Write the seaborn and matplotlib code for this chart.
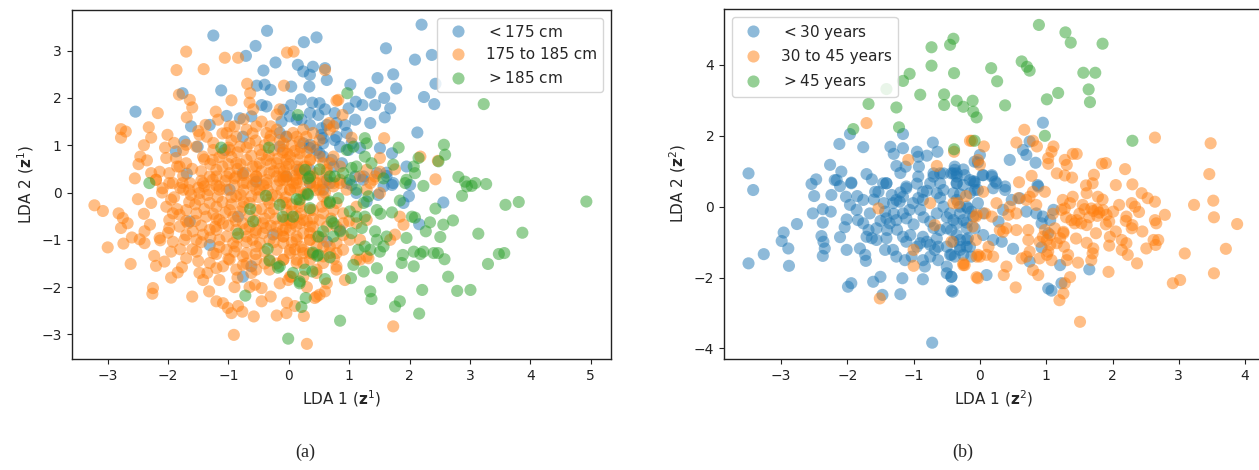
import matplotlib
matplotlib.use("Agg")
import matplotlib.pyplot as plt
import seaborn as sns
import pandas as pd

# ---------------- data: panel (a), LDA projection by height ----------------
height_labels = [r"$<175$ cm", "175 to 185 cm", r"$>185$ cm"]

a_short = [(-1.25,3.32),(-0.36,3.42),(-0.55,3.10),(-0.71,2.89),(0.25,3.18),(0.46,3.28),(-0.22,2.75),(-0.42,2.58),
 (0.15,2.70),(0.24,2.56),(0.35,2.49),(0.40,2.66),(0.60,2.63),(0.63,2.38),(0.34,2.24),(-0.53,2.26),(-0.40,2.28),
 (-0.30,2.17),(0.04,2.24),(-1.12,2.16),(-1.76,2.10),(-2.54,1.71),(0.20,1.97),(0.39,1.90),(0.51,1.89),(0.60,1.76),
 (0.04,1.85),(-0.09,1.75),(-0.45,1.85),(-0.37,1.82),(-1.03,1.62),(-0.81,1.57),(-0.62,1.61),(-0.12,1.50),(0.02,1.61),
 (0.21,1.54),(0.35,1.68),(0.49,1.64),(0.63,1.43),(0.76,1.68),(0.79,1.47),(-1.62,1.40),(-1.31,1.43),(-1.73,1.08),
 (-1.51,0.97),(-1.87,0.87),(0.54,1.22),(0.57,1.15),(0.35,1.01),(0.46,0.90),(-0.04,1.18),(-0.15,0.97),(-1.69,0.40),
 (-1.06,0.90),(-0.76,1.18),(2.20,3.55),(1.61,3.05),(2.09,2.81),(2.37,2.91),(2.43,2.30),(2.24,2.02),(2.41,1.87),
 (1.47,2.42),(1.73,2.50),(1.78,2.20),(1.35,2.11),(1.58,2.00),(1.02,2.28),(1.43,1.85),(1.68,1.78),(1.59,1.59),
 (1.35,1.47),(1.11,1.92),(1.22,1.85),(0.99,1.78),(1.10,1.54),(0.93,1.43),(2.13,1.27),(1.18,0.94),(1.51,0.94),
 (1.71,0.83),(1.95,0.55),(1.62,0.42),(1.73,0.20),(0.57,1.04),(0.76,1.11),(0.85,0.97),(0.99,0.90),(0.13,1.54),
 (0.35,1.43),(0.54,1.36),(0.79,1.18),(0.96,1.26),(1.04,1.04),(0.35,0.94),(0.51,0.83),(0.71,0.69),(0.88,0.62),
 (1.10,0.34),(1.23,0.27),(1.57,0.13),(-0.04,0.34),(0.18,0.48),(-0.15,1.26),(0.24,1.04),(0.57,0.76),(0.74,0.55),
 (0.35,0.48),(0.68,0.20),(-1.31,-1.11),(-0.76,-1.78),(-0.62,-1.56),(0.63,-1.04),(-0.26,-0.89),(-1.64,-0.61),
 (-0.84,-0.51),(2.56,-0.21),(2.16,-0.67),(1.99,-0.08),(1.90,-0.22),(1.71,0.16),(1.62,0.35),(2.01,0.16),(1.48,-0.05),
 (1.29,-0.19),(1.04,0.16),(1.46,0.41),(1.24,0.34),(1.12,-0.01),(0.96,0.20),(0.63,0.27),(0.57,0.06),(0.35,0.20),
 (0.85,-0.79),(-0.98,0.06),(-0.54,0.23),(-0.76,0.41)]

a_mid = [(-1.70,2.98),(-1.06,2.85),(-0.84,2.85),(-0.03,2.96),(0.08,2.98),(-1.86,2.59),(-1.41,2.61),(0.60,2.59),
 (-0.69,2.30),(-0.64,2.10),(-0.08,2.26),(-1.82,2.07),(-1.64,1.96),(-2.17,1.68),(-1.69,1.59),(-1.21,1.71),(-0.59,1.76),
 (-0.15,1.76),(0.79,1.94),(-2.78,1.34),(-2.70,1.29),(-2.78,1.16),(-2.32,1.38),(-2.28,1.16),(-2.01,1.22),(-1.38,1.43),
 (-1.17,1.54),(-1.48,1.22),(-1.36,1.18),(-1.03,1.26),(-2.46,0.76),(-2.35,0.68),(-2.49,0.60),(-2.28,0.41),(-2.14,0.44),
 (-1.98,0.41),(-1.81,0.55),(-1.70,0.62),(-2.03,0.73),(-1.87,0.73),(-1.70,1.01),(-1.53,0.97),(-1.42,0.76),(-1.26,0.69),
 (-1.09,0.83),(-1.31,0.34),(-2.20,0.27),(-1.98,0.20),(-1.76,0.20),(0.82,1.96),(0.89,1.64),(0.67,1.47),(0.74,1.40),
 (1.04,1.16),(1.58,1.15),(2.18,0.76),(2.47,0.67),(2.43,0.28),(1.76,0.49),(1.51,0.73),(1.29,0.48),(1.43,0.34),
 (1.35,0.20),(-3.22,-0.27),(-3.08,-0.39),(-3.00,-1.16),(-2.82,-0.44),(-2.75,-0.54),(-2.67,-0.65),(-2.78,-0.75),
 (-2.74,-1.08),(-2.62,-1.51),(-2.50,-0.14),(-2.28,-0.22),(-2.30,-0.68),(-2.39,-0.82),(-2.47,-0.99),(-2.39,-1.07),
 (-2.14,-0.96),(-2.13,-1.01),(-2.23,-1.34),(-2.06,-1.46),(-1.92,-1.04),(-1.95,-1.25),(-2.25,-2.02),(-2.26,-2.14),
 (-1.84,-1.69),(-1.77,-1.58),(-1.48,-1.70),(-1.42,-1.85),(-1.32,-2.09),(-1.09,-2.34),(-1.01,-2.44),(-0.95,-2.55),
 (-0.84,-2.40),(-0.77,-2.52),(-0.58,-2.62),(-0.91,-3.01),(-0.30,-2.20),(-0.03,-2.33),(-0.04,-2.55),(0.30,-3.20),
 (0.25,-2.61),(0.46,-2.20),(0.60,-2.09),(-0.56,-1.95),(-0.45,-2.02),(-0.15,-1.92),(0.04,-1.78),(-1.70,-1.39),
 (-1.53,-1.25),(-1.31,-1.49),(-1.20,-1.60),(-1.09,-1.56),(-0.87,-1.63),(-0.76,-1.53),(-0.62,-1.70),(-1.98,-0.75),
 (-1.81,-0.72),(-1.67,-0.65),(-1.59,-0.82),(-1.42,-0.89),(-1.31,-0.79),(-1.53,-1.00),(-1.73,-1.00),(-2.03,-0.30),
 (-1.92,-0.44),(-1.98,-0.58),(-1.81,-0.47),(-1.70,-0.37),(-1.53,-0.44),(-1.37,-0.51),(-1.20,-0.30),(-1.31,-0.22),
 (-1.48,-0.15),(-2.20,0.27),(-2.09,0.09),(-1.92,0.20),(-1.75,0.06),(-1.64,0.20),(-1.48,-0.01),(-1.40,0.13),
 (-1.26,0.27),(-1.20,-0.79),(-1.03,-0.93),(-1.25,-1.28),(-1.03,-1.21),(-0.87,-1.14),(-0.70,-1.28),(-0.54,-1.14),
 (-0.54,-1.42),(-0.32,-1.42),(-0.20,-1.21),(-0.09,-1.07),(0.02,-1.28),(0.13,-1.42),(0.24,-1.21),(0.35,-1.28),
 (-1.03,0.06),(-0.87,-0.08),(-0.76,0.20),(-0.65,-0.22),(-0.54,0.06),(-0.37,0.20),(-0.32,-0.22),(-0.20,-0.08),
 (-0.04,-0.37),(0.02,0.06),(0.18,-0.22),(0.24,-0.58),(0.35,-0.37),(0.46,0.20),(0.57,-0.08),(0.51,-0.58),
 (0.74,-0.37),(0.79,-0.72),(0.02,-0.79),(-0.20,-0.86),(-0.43,-0.65),(-0.54,-0.79),(-0.76,-0.65),(-0.92,-0.51),
 (-1.15,-0.58),(1.73,-2.83),(0.51,-2.16),(0.43,-2.23),(0.93,-1.85),(1.84,-0.51),(1.90,-0.68),(1.76,-0.89),
 (1.68,-1.00),(1.32,-1.39),(1.18,-1.42),(-0.01,-1.85),(-0.04,0.34),(0.18,0.41),(0.40,0.34),(0.63,0.41),(0.85,0.27),
 (1.18,0.34),(1.40,0.27),(1.51,0.44),(0.02,0.06),(0.29,-0.01),(0.51,0.06),(0.74,0.13),(0.96,0.06),(1.29,0.06),
 (1.51,-0.01),(-0.04,-0.22),(0.18,-0.30),(0.40,-0.37),(0.63,-0.22),(0.90,-0.44),(1.12,-0.30),(-0.04,-0.58),
 (0.18,-0.65),(0.40,-0.72),(0.63,-0.72),(0.90,-0.65),(1.12,-0.65),(1.29,-0.58),(-0.09,-0.93),(0.13,-0.93),
 (0.35,-1.00),(0.57,-1.14),(0.79,-1.07),(1.01,-1.00),(1.18,-1.00),(0.02,-1.21),(0.24,-1.28),(0.46,-1.14),
 (0.68,-1.28),(0.90,-1.21),(1.12,-1.42),(1.29,-1.35),(-0.09,-1.42),(0.13,-1.49),(0.35,-1.42),(0.57,-1.49),
 (0.79,-1.56),(0.02,-1.78),(0.24,-1.78),(0.46,-1.70),(0.63,-1.92),(-0.15,1.11),(-0.04,1.18),(0.07,1.26),
 (0.18,1.08),(0.29,1.18),(0.40,0.97),(0.51,1.11),(-0.09,0.90),(0.02,0.76),(0.18,0.83),(0.35,0.69),(0.51,0.76),
 (0.68,0.62),(-0.04,0.55),(0.13,0.48),(0.29,0.55),(0.46,0.41),(0.63,0.48),(-0.09,0.27),(0.07,0.20),(0.24,0.27),
 (0.40,0.13),(0.57,0.23),(0.74,0.20),(0.85,0.55),(-0.98,1.40),(-0.87,1.18),(-0.70,1.33),(-0.54,1.40),(-0.37,1.26),
 (-0.20,1.33),(-0.98,0.90),(-0.81,0.97),(-0.65,1.04),(-0.48,0.90),(-0.32,1.11),(-0.09,1.04),(0.13,1.18),(0.24,1.33),
 (0.40,1.26),(0.68,1.33),(-0.87,0.62),(-0.70,0.69),(-0.54,0.55),(-0.37,0.69),(-0.20,0.62),(-0.04,0.69),(0.13,0.55),
 (0.35,0.69),(0.57,0.62),(0.74,0.76),(-1.20,0.48),(-1.03,0.34),(-0.87,0.34),(-0.70,0.20),(-0.54,0.34),(-0.37,0.27),
 (-0.20,0.34),(-0.04,0.27),(0.13,0.20),(0.35,0.34),(0.57,0.20),(-1.42,0.20),(-1.15,0.13),(-0.48,0.06),(-1.20,0.34),
 (-0.98,0.41),(-0.76,0.37),(-0.54,0.34),(-0.32,0.41),(-0.09,0.34),(0.13,0.27),(0.35,0.20),(-1.15,0.06),(-0.98,-0.37),
 (-0.76,-0.30),(-0.54,-0.37),(-0.32,-0.44),(-0.09,-0.58),(0.13,-0.51),(0.35,-0.72),(0.57,-0.44),(0.79,-0.22),
 (-1.09,-0.65),(-0.87,-0.79),(-0.65,-0.72),(-0.43,-0.86),(-0.20,-0.72),(0.02,-0.58),(0.24,-0.86),(0.46,-0.93),
 (0.68,-1.14),(-1.15,-1.00),(-0.92,-1.07),(-0.70,-0.93),(-0.48,-1.07),(-0.32,-1.00),(-0.09,-0.93),(0.13,-1.00),
 (0.35,-1.00),(0.57,-1.35),(0.79,-1.28),(-0.98,-1.42),(-0.76,-1.35),(-0.09,-1.42),(0.24,-1.49),(0.46,-1.63),
 (0.79,-1.63),(-0.32,-1.63),(-0.54,-1.63),
 (-1.90,-0.10),(-1.75,0.35),(-1.60,0.50),(-1.45,0.45),(-1.30,0.60),(-1.15,0.75),(-1.00,0.60),(-0.85,0.85),
 (-0.70,0.95),(-0.55,1.10),(-0.40,1.00),(-0.25,0.90),(-0.10,0.85),(0.05,1.00),(0.20,0.95),(-1.85,-0.35),
 (-1.65,-0.20),(-1.50,0.10),(-1.35,-0.05),(-1.20,0.15),(-1.05,0.25),(-0.90,0.15),(-0.75,0.05),(-0.60,0.15),
 (-0.45,0.45),(-0.30,0.60),(-0.15,0.50),(0.00,0.60),(0.15,0.70),(0.30,0.85),(-1.70,-0.90),(-1.55,-0.60),
 (-1.40,-0.35),(-1.25,-0.45),(-1.10,-0.20),(-0.95,-0.10),(-0.80,-0.40),(-0.65,-0.50),(-0.50,-0.10),(-0.35,0.05),
 (-0.20,0.15),(-0.05,-0.10),(0.10,0.10),(0.25,-0.05),(0.45,0.05),(-1.60,-1.20),(-1.45,-1.05),(-1.30,-0.95),
 (-1.15,-1.15),(-1.00,-0.70),(-0.85,-0.95),(-0.70,-1.05),(-0.55,-0.85),(-0.40,-0.55),(-0.25,-0.35),(-0.10,-0.20),
 (0.05,-0.40),(0.20,-0.45),(0.40,-0.55),(0.55,-0.30),(-1.35,-1.70),(-1.15,-1.85),(-1.00,-1.40),(-0.85,-1.80),
 (-0.70,-1.50),(-0.55,-1.30),(-0.40,-1.25),(-0.25,-1.05),(-0.10,-0.80),(0.05,-1.05),(0.20,-1.15),(0.35,-0.85),
 (0.55,-0.95),(0.70,-0.55),(0.90,-0.90),(-2.05,0.95),(-1.90,1.05),(-1.75,0.90),(-1.50,1.30),(-1.25,1.05),
 (-1.10,1.25),(-0.90,1.40),(-0.75,1.55),(-0.45,1.50),(-0.30,1.40),(-0.20,1.65),(-0.65,1.90),(-0.95,1.95),
 (-1.60,1.80),(-2.40,1.00),(-2.55,0.30),(-2.40,-0.45),(-2.60,-0.95),(-2.20,-1.55),(-1.95,-1.80),(-1.60,-2.20),
 (-1.20,-2.30),(-0.45,-2.30),(-0.20,-2.60),(0.10,-2.40),(-0.65,-2.00),(-0.90,-2.00),(0.30,-2.00),(0.75,-1.40),
 (1.00,-0.60),(-0.35,-0.15),(-0.60,0.55),(-0.85,0.50),(-1.00,0.95),(-0.15,0.25),(0.05,-0.65),(-0.30,-0.70),
 (-0.75,-0.20),(-1.20,-0.55),(-1.45,-0.70),(-1.65,0.05),(-0.45,0.80),(0.25,0.55),(0.60,0.00),(0.85,0.20),
 (-0.95,0.75),(-0.80,0.60),(-0.62,0.78),(-0.48,0.62),(-0.33,0.78),(-0.18,0.72),(-0.02,0.82),(0.10,0.88),
 (-0.90,0.30),(-0.72,0.42),(-0.58,0.28),(-0.42,0.15),(-0.25,0.45),(-0.08,0.45),(0.08,0.35),(0.22,0.40),
 (-0.95,-0.25),(-0.80,-0.05),(-0.62,-0.08),(-0.45,-0.35),(-0.28,-0.05),(-0.12,0.05),(0.05,-0.25),(0.20,0.02),
 (-0.88,-0.60),(-0.72,-0.78),(-0.55,-0.60),(-0.38,-0.75),(-0.22,-0.55),(-0.05,-0.75),(0.12,-0.70),(0.30,-0.60),
 (-1.95,-0.15),(-1.80,0.10),(-1.62,-0.05),(-1.45,0.25),(-1.32,0.05),(-1.18,-0.10),(-1.05,-0.42),(-1.22,-0.72),
 (-1.55,-0.25),(-1.70,-0.60),(-1.40,0.70),(-1.25,0.90),(-1.10,0.55),(-0.95,1.10),(-0.60,1.25),(-0.30,1.20),
 (-1.85,0.55),(-2.10,0.00),(-2.00,-0.85),(-1.80,-1.20),(-1.50,-1.45),(-1.20,-1.30),(-0.90,-1.25),(-0.60,-1.00),
 (-0.40,-1.50),(-0.20,-1.50),(0.10,-1.20),(0.40,-1.30)]

a_tall = [(-1.12,0.95),(-0.33,0.95),(-2.31,0.20),(0.15,1.64),(0.27,0.48),(0.51,0.49),(0.32,0.30),(0.76,0.34),
 (3.23,1.87),(0.97,2.10),(1.26,1.15),(1.29,1.04),(1.82,0.95),(2.15,0.73),(2.57,1.01),(2.59,0.80),(2.48,0.66),
 (2.07,0.55),(2.09,0.41),(1.95,0.27),(1.37,0.62),(1.73,0.59),(1.57,0.30),(1.93,0.20),(2.23,0.14),(0.90,0.41),
 (1.04,0.52),(1.12,0.55),(1.26,0.76),(0.96,0.90),(1.07,0.97),(-0.38,-0.07),(-0.15,-0.26),(-0.64,-0.35),
 (-0.59,-0.61),(-0.10,-0.51),(-0.84,-0.87),(-0.35,-1.19),(-0.32,-1.44),(-0.18,-1.59),(0.13,-0.14),(0.31,-0.03),
 (0.35,-0.33),(0.68,-0.19),(0.71,-0.61),(0.57,-0.82),(0.74,-0.93),(0.49,-0.93),(0.40,-1.27),(0.47,-1.34),
 (0.68,-1.37),(0.07,-1.70),(0.18,-1.88),(0.27,-1.63),(0.39,-1.67),(0.60,-1.83),(0.28,-2.23),(0.21,-2.42),
 (-0.72,-2.18),(-0.01,-3.09),(0.85,-2.71),(0.68,0.34),(4.93,-0.19),(3.59,-0.26),(3.81,-0.20),(3.87,-0.85),
 (3.14,-0.87),(3.30,-1.51),(3.48,-1.30),(3.57,-1.28),(2.79,-2.08),(3.01,-2.06),(2.64,-1.78),(2.58,-1.41),
 (2.40,-1.28),(2.47,-1.28),(2.23,-1.25),(2.18,-1.30),(2.07,-1.25),(1.89,-1.32),(1.87,-1.49),(2.07,-1.56),
 (2.51,-0.94),(2.27,-0.82),(2.34,-0.63),(2.56,-0.68),(2.72,-0.59),(2.43,-0.34),(2.87,-0.07),(2.81,0.33),
 (2.92,0.23),(2.95,0.13),(3.09,0.20),(3.27,0.18),(3.03,0.14),(2.04,-0.51),(2.09,-0.53),(1.95,-0.96),(1.71,-0.42),
 (1.52,-0.45),(1.46,-0.37),(1.84,-0.17),(1.43,-0.82),(1.62,-0.93),(1.46,-1.00),(1.57,-1.14),(1.51,-1.25),
 (1.35,-1.21),(1.15,-1.21),(1.26,-1.14),(1.04,-0.86),(1.21,-0.75),(1.12,-0.51),(1.26,-0.51),(1.01,-0.40),
 (0.85,-0.82),(0.74,-0.65),(0.68,-0.22),(0.82,-0.12),(1.12,0.06),(1.32,-0.08),(1.24,-0.22),(1.01,0.27),
 (0.35,0.34),(0.32,-0.05),(0.18,-0.15),(0.07,-0.51),(-0.15,-1.56),(0.18,-1.92),(1.03,-1.81),(1.24,-1.67),
 (1.46,-1.60),(1.35,-2.09),(1.37,-2.25),(1.71,-1.79),(1.76,-2.41),(1.84,-2.30),(2.16,-2.56),(2.21,-2.06),
 (0.49,-1.32),(1.07,-1.53)]

# ---------------- data: panel (b), LDA projection by age ----------------
age_labels = [r"$<30$ years", "30 to 45 years", r"$>45$ years"]

b_young = [(-3.49,0.94),(-3.42,0.47),(-2.54,0.64),(-2.47,0.77),(-2.26,1.18),(-2.09,0.99),(-2.19,0.75),(-1.94,0.68),
 (-2.12,1.77),(-1.96,2.05),(-1.76,1.68),(-1.71,0.92),(-1.63,0.77),(-1.41,0.66),(-1.35,1.69),(-1.30,1.49),(-1.16,2.05),
 (-1.16,1.65),(-0.95,1.55),(-0.93,1.41),(-1.26,1.15),(-1.12,1.13),(-0.92,1.13),(-0.93,0.85),(-0.80,1.44),(-0.71,1.81),
 (-0.64,1.55),(-0.70,0.94),(-0.55,0.94),(-0.38,1.13),(-0.35,0.94),(-0.23,0.89),(-0.03,1.25),(-0.08,0.66),(-1.11,0.57),
 (-0.75,0.66),(-0.60,0.66),(0.95,2.37),(0.75,1.84),(0.65,1.60),(0.70,1.46),(0.45,1.32),(0.84,1.24),(-0.08,1.27),
 (0.00,1.46),(-0.38,1.04),(0.04,0.89),(0.18,0.89),(0.23,0.71),(-0.08,0.71),(-0.35,0.66),(0.87,0.61),(0.38,0.57),
 (-3.49,-1.60),(-3.26,-1.34),(-2.99,-0.97),(-2.96,-0.73),(-2.89,-1.18),(-2.88,-1.67),(-2.76,-0.49),(-2.52,-0.19),
 (-2.50,0.30),(-2.37,-0.07),(-2.37,-0.45),(-2.39,-0.83),(-2.36,-0.99),(-2.34,-1.18),(-2.37,-1.39),(-2.25,-0.14),
 (-2.24,0.33),(-2.16,0.75),(-2.11,0.58),(-2.02,0.28),(-1.94,0.66),(-1.96,0.05),(-1.86,-0.09),(-2.01,-0.36),
 (-2.04,-0.58),(-2.11,-0.86),(-2.01,-1.22),(-1.81,-1.18),(-1.73,-1.36),(-1.72,-1.53),(-1.99,-2.26),(-1.94,-2.16),
 (-1.61,-2.12),(-1.50,-1.98),(-1.47,-2.49),(-1.20,-2.47),(-1.17,-2.02),(-0.86,-2.05),(-0.72,-3.84),(-0.43,-2.37),
 (-0.43,-1.98),(-0.50,-1.88),(-0.50,-1.69),(-0.63,-1.51),(-0.83,-1.69),(-0.86,-1.51),(-1.03,-1.41),(-1.13,-1.51),
 (-1.26,-1.41),(-1.31,-1.22),(-1.43,-1.22),(-1.56,-0.94),(-1.63,-0.89),(-1.71,-0.85),(-1.41,-0.89),(-1.40,-0.66),
 (-1.36,-0.47),(-1.26,-0.38),(-1.41,-0.33),(-1.56,-0.61),(-1.68,-0.66),(-1.76,-0.47),(-1.84,-0.38),(-1.76,0.19),
 (-1.58,0.42),(-1.53,0.42),(-1.46,0.66),(-1.41,0.66),(-1.66,-0.19),(-1.43,-0.14),(-1.31,0.10),(-1.26,0.19),
 (-1.21,0.14),(-1.16,0.28),(-1.11,0.52),(-1.33,0.33),(-1.16,-0.19),(-1.11,-0.33),(-1.06,-0.09),(-1.01,0.10),
 (-0.93,0.24),(-0.90,-0.09),(-0.86,0.19),(-0.86,0.42),(-1.16,-0.85),(-1.11,-0.99),(-0.95,-1.13),(-0.90,-1.03),
 (-0.86,-0.85),(-0.80,-0.99),(-0.75,-1.08),(-0.68,-1.22),(-0.75,-1.41),(-0.63,-1.13),(-0.75,-0.42),(-0.65,-0.19),
 (-0.55,0.00),(-0.45,-0.19),(-0.40,-0.38),(-0.50,-0.61),(-0.60,-0.66),(-0.35,-0.80),(-0.30,-1.13),(-0.20,-0.94),
 (-0.15,-1.13),(-0.25,-1.36),(-0.13,-1.41),(-0.45,-1.36),(-0.50,-1.13),(-0.65,0.38),(-0.55,0.47),(-0.40,0.38),
 (-0.35,0.66),(-0.15,0.75),(-0.08,0.47),(-0.20,0.00),(-0.13,-0.14),(-0.30,-0.19),(-0.70,0.85),(-0.60,0.94),
 (-0.40,0.94),(-0.43,0.94),(-0.35,0.85),(-0.25,0.61),(-0.10,0.71),(0.05,0.89),(0.18,0.85),(0.25,0.66),(0.38,0.47),
 (0.20,0.52),(-0.03,0.47),(-0.15,0.38),(-0.35,0.19),(-0.30,0.00),(-0.18,-0.05),(-0.03,0.10),(0.05,-0.19),
 (-0.10,-0.28),(-0.25,-0.38),(-0.35,-0.47),(-0.43,-0.66),(-0.40,-0.99),(-0.30,-0.94),(-0.18,-0.89),(-0.20,-0.61),
 (-0.08,-0.61),(0.05,-0.80),(0.20,-0.94),(0.33,-0.99),(0.28,-0.42),(0.35,-0.09),(0.48,0.19),(0.60,0.24),
 (0.70,-0.14),(0.85,-0.19),(0.95,-0.28),(1.06,-0.38),(1.11,-0.09),(0.93,-0.47),(1.03,-0.75),(0.88,0.57),
 (0.50,-1.19),(0.75,-1.55),(0.93,-1.15),(1.21,-1.65),(1.23,-2.16),(1.03,-2.31),(1.08,-2.37),(1.65,-1.77),
 (0.10,-1.93),(-0.43,-1.98),(-0.41,-2.40),(-0.43,-1.36),(-0.38,-1.41),(-0.20,-1.13),(-0.30,-1.22),
 (-1.45,0.10),(-1.30,-0.20),(-1.20,0.40),(-1.00,-0.50),(-0.85,-0.30),(-0.70,-0.60),(-0.60,0.25),(-0.50,-0.30),
 (-0.95,0.65),(-1.25,-0.65),(-1.50,-0.40),(-0.30,0.35),(-0.20,-0.45),(-0.65,-0.90),(-1.05,-0.80),(-1.20,0.95),
 (-0.80,0.45),(-0.25,1.05),(-1.60,0.20),(-1.85,0.30)]

b_mid = [(-1.71,2.36),(-1.08,1.32),(-0.65,1.15),(-0.39,1.55),(-0.15,1.86),(-0.03,1.32),(0.67,2.17),(2.64,1.95),
 (3.48,1.79),(0.55,1.81),(0.80,1.86),(0.86,1.70),(1.11,1.70),(1.08,1.55),(-0.12,1.86),(0.06,1.70),(0.00,1.18),
 (1.03,1.37),(1.03,1.21),(1.28,1.32),(1.40,1.49),(1.46,1.49),(1.31,1.18),(1.16,0.94),(1.28,0.88),(1.39,0.82),
 (1.84,1.21),(1.90,1.23),(2.19,1.06),(1.72,0.90),(1.70,0.66),(2.05,0.61),(2.30,0.63),(3.46,0.92),(0.78,0.87),
 (0.59,0.69),(1.61,0.38),(1.78,0.28),(2.44,0.38),(2.53,0.24),(2.64,0.14),(3.23,0.05),(3.52,0.17),(3.53,-0.30),
 (3.88,-0.49),(3.71,-1.19),(3.09,-1.32),(2.91,-2.16),(3.02,-2.07),(3.53,-1.88),(1.51,-3.25),(2.29,0.10),(2.34,0.00),
 (2.10,0.05),(2.01,-0.14),(1.91,-0.23),(1.95,-0.42),(2.21,-0.28),(2.30,-0.52),(2.29,-0.61),(2.79,-0.23),(2.64,-0.38),
 (2.66,-0.47),(2.62,-0.94),(2.69,-0.94),(2.51,-1.18),(2.65,-1.08),(2.14,-0.94),(2.21,-1.03),(2.14,-1.22),
 (2.23,-1.36),(2.37,-1.60),(1.94,-1.84),(1.96,-0.85),(1.58,-0.07),(1.68,-0.05),(1.77,-0.07),(1.80,-0.17),
 (1.77,-0.26),(1.71,-0.12),(1.86,-0.10),(1.46,-0.38),(1.53,-0.47),(1.61,-0.52),(1.43,-0.47),(1.38,-0.38),
 (1.40,0.28),(1.36,0.10),(1.25,0.19),(1.28,-0.05),(1.23,-0.09),(1.61,-1.02),(1.71,-1.18),(1.70,-1.32),(1.68,-1.51),
 (1.26,-0.75),(1.21,-0.89),(1.27,-1.13),(1.33,-1.36),(1.31,-1.51),(1.48,-1.58),(1.36,-1.99),(1.26,-2.45),
 (1.20,-2.64),(1.28,-2.16),(1.06,-0.80),(1.01,-0.94),(1.03,-1.27),(1.01,-1.36),(0.90,-1.46),(1.08,-1.51),
 (0.88,-1.93),(0.80,-1.79),(0.73,-0.94),(0.75,-1.27),(0.63,-1.46),(0.70,-1.41),(0.40,-1.69),(0.36,-1.93),
 (0.54,-2.28),(-0.03,-2.02),(-0.25,-1.65),(0.10,-1.36),(-0.03,-1.36),(0.20,-1.41),(0.00,-1.41),(0.85,0.05),
 (0.75,0.28),(0.58,0.24),(0.70,0.19),(0.80,0.42),(0.98,0.42),(0.45,0.00),(0.55,-0.19),(0.43,-0.23),(0.30,-0.66),
 (0.35,-0.71),(0.40,-0.61),(0.18,-0.28),(0.05,0.42),(0.08,-0.19),(0.25,0.10),(-0.05,-0.23),(-0.33,0.10),(0.73,-0.66),
 (0.55,-0.66),(0.98,-0.66),(1.13,-0.61),(1.26,-0.71),(0.95,-0.85),(0.90,-0.99),(1.16,-1.03),(1.06,-1.08),
 (-0.43,-0.99),(0.13,-1.13),(-0.40,0.10),(-1.53,-0.05),(-0.75,0.10),(-0.68,-0.52),(-0.21,0.30),(-0.06,-0.28),
 (-0.11,-0.56),(-1.00,-1.22),(-1.00,-1.67),(-0.25,-1.60),(-0.23,-1.65),(-0.05,-1.99),(-0.06,-0.94),(-0.05,-1.41),
 (-1.51,-2.59),(1.50,-0.20),(1.65,-0.30),(1.90,-0.50),(2.05,-0.70),(1.75,-0.75),(1.45,-0.90),(1.55,0.05),
 (1.85,0.20),(2.20,-0.40),(2.45,-0.70),(1.30,-0.30),(1.10,-0.20),(1.95,-1.10),(2.40,-0.15),(1.60,0.60)]

b_old = [(-0.40,4.74),(-0.45,4.57),(-0.73,4.50),(-0.73,3.98),(-0.39,3.77),(-1.06,3.75),(-1.16,3.55),(-1.41,3.32),
 (-0.90,3.16),(-0.54,3.17),(-0.54,2.87),(-0.35,2.99),(-0.25,2.82),(-0.11,2.99),(-0.10,2.68),(-0.05,2.52),(-1.68,2.90),
 (-1.26,2.80),(-1.22,2.24),(-1.91,2.19),(-0.39,1.62),(-0.08,1.86),(0.89,5.13),(1.29,4.92),(1.37,4.63),(1.85,4.60),
 (0.63,4.10),(0.71,3.95),(0.75,3.84),(0.17,3.91),(0.26,3.54),(1.56,3.78),(1.74,3.78),(1.64,3.31),(1.66,2.95),
 (1.18,3.21),(1.01,3.03),(0.38,2.86),(0.98,2.00),(2.30,1.86)]

palette = ["#1f77b4", "#ff7f0e", "#2ca02c"]


def make_frame(groups, labels):
    rows = []
    for pts, lab in zip(groups, labels):
        for x, y in pts:
            rows.append({"x": x, "y": y, "group": lab})
    return pd.DataFrame(rows)


df_a = make_frame([a_short, a_mid, a_tall], height_labels)
df_b = make_frame([b_young, b_mid, b_old], age_labels)

sns.set_style("ticks")
plt.rcParams["font.family"] = ["DejaVu Sans"]
plt.rcParams["mathtext.fontset"] = "dejavusans"

W, H = 1259, 470
fig = plt.figure(figsize=(W / 100, H / 100), dpi=100)
ax1 = fig.add_axes([71.5 / W, (H - 359) / H, (610.5 - 71.5) / W, (359 - 10) / H])
ax2 = fig.add_axes([724 / W, (H - 359) / H, (1263 - 724) / W, (359 - 9) / H])

for ax, df, labels in [(ax1, df_a, height_labels), (ax2, df_b, age_labels)]:
    sns.scatterplot(data=df, x="x", y="y", hue="group", hue_order=labels,
                    palette=palette, s=76, alpha=0.5, linewidth=0, ax=ax)
    for sp in ax.spines.values():
        sp.set_visible(True)
        sp.set_linewidth(1.0)
        sp.set_color("#222222")
    ax.tick_params(labelsize=10, length=3.5, width=0.8, colors="#222222")

ax1.set_xlim(-3.60, 5.33)
ax1.set_ylim(-3.52, 3.86)
ax1.set_xticks(range(-3, 6))
ax1.set_yticks(range(-3, 4))
ax1.set_xlabel(r"LDA 1 ($\mathbf{z}^1$)", fontsize=11)
ax1.set_ylabel(r"LDA 2 ($\mathbf{z}^1$)", fontsize=11)

ax2.set_xlim(-3.86, 4.27)
ax2.set_ylim(-4.30, 5.58)
ax2.set_xticks(range(-3, 5))
ax2.set_yticks([-4, -2, 0, 2, 4])
ax2.set_xlabel(r"LDA 1 ($\mathbf{z}^2$)", fontsize=11)
ax2.set_ylabel(r"LDA 2 ($\mathbf{z}^2$)", fontsize=11)

leg1 = ax1.legend(loc="upper right", fontsize=11, title=None)
leg2 = ax2.legend(loc="upper left", fontsize=11, title=None)
for leg in (leg1, leg2):
    for h in leg.legend_handles:
        h.set_alpha(0.5)

fig.text(305 / W, 1 - 452 / H, "(a)", family="Liberation Serif", fontsize=13,
         ha="center", va="center")
fig.text(963 / W, 1 - 452 / H, "(b)", family="Liberation Serif", fontsize=13,
         ha="center", va="center")

fig.savefig("out.png", dpi=100)
